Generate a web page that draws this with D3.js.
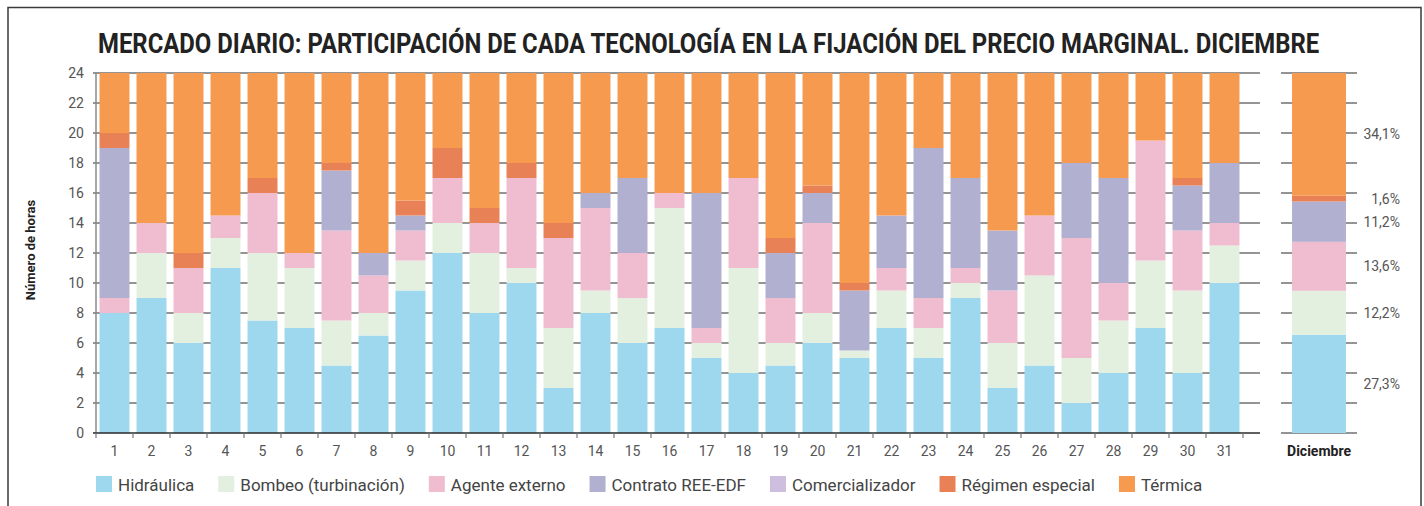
<!DOCTYPE html>
<html>
<head>
<meta charset="utf-8">
<script src="https://cdn.jsdelivr.net/npm/d3@7"></script>
<style>
  body { margin: 0; background: #fff; }
  svg { display: block; font-family: "Liberation Sans Narrow", "Arial Narrow", Roboto, sans-serif; }
</style>
</head>
<body>
<svg id="chart" width="1424" height="506"></svg>
<script>
// daily hours per technology (December)
var days = d3.range(1, 32);
var hidraulica      = [8, 9, 6, 11, 7.5, 7, 4.5, 6.5, 9.5, 12, 8, 10, 3, 8, 6, 7, 5, 4, 4.5, 6, 5, 7, 5, 9, 3, 4.5, 2, 4, 7, 4, 10];
var bombeo          = [0, 3, 2, 2, 4.5, 4, 3, 1.5, 2, 2, 4, 1, 4, 1.5, 3, 8, 1, 7, 1.5, 2, 0.5, 2.5, 2, 1, 3, 6, 3, 3.5, 4.5, 5.5, 2.5];
var agente          = [1, 2, 3, 1.5, 4, 1, 6, 2.5, 2, 3, 2, 6, 6, 5.5, 3, 1, 1, 6, 3, 6, 0, 1.5, 2, 1, 3.5, 4, 8, 2.5, 8, 4, 1.5];
var contrato        = [10, 0, 0, 0, 0, 0, 4, 1.5, 1, 0, 0, 0, 0, 1, 5, 0, 9, 0, 3, 2, 4, 3.5, 10, 6, 4, 0, 5, 7, 0, 3, 4];
var comercializador = [0, 0, 0, 0, 0, 0, 0, 0, 0, 0, 0, 0, 0, 0, 0, 0, 0, 0, 0, 0, 0, 0, 0, 0, 0, 0, 0, 0, 0, 0, 0];
var regimen         = [1, 0, 1, 0, 1, 0, 0.5, 0, 1, 2, 1, 1, 1, 0, 0, 0, 0, 0, 1, 0.5, 0.5, 0, 0, 0, 0, 0, 0, 0, 0, 0.5, 0];
var termica         = [4, 10, 12, 9.5, 7, 12, 6, 12, 8.5, 5, 9, 6, 10, 8, 7, 8, 8, 7, 11, 7.5, 14, 9.5, 5, 7, 10.5, 9.5, 6, 7, 4.5, 7, 6];

// monthly share (%)
var mesPct = [27.3, 12.2, 13.6, 11.2, 0, 1.6, 34.1];

var keys = ["Hidráulica", "Bombeo (turbinación)", "Agente externo", "Contrato REE-EDF", "Comercializador", "Régimen especial", "Térmica"];
var colors = ["#9ed8ee", "#e4f0df", "#efbcd0", "#b1b0d1", "#cdbfdd", "#e98157", "#f69a4f"];
var yTicks = d3.range(0, 25, 2);

var series = [hidraulica, bombeo, agente, contrato, comercializador, regimen, termica];
var rows = days.map(function(d, i) {
	var r = { day: d };
	keys.forEach(function(k, j) { r[k] = series[j][i]; });
	return r;
});

var svg = d3.select("#chart");
var color = d3.scaleOrdinal().domain(keys).range(colors);

// frame
svg.append("path")
	.attr("d", "M8,506 V7.5 H1421 V506")
	.attr("fill", "none")
	.attr("stroke", "#3a3a3a")
	.attr("stroke-width", 1.5);

// title, squeezed horizontally to the width of the original condensed face
var title = svg.append("text")
	.attr("font-weight", "bold")
	.attr("font-size", 28)
	.attr("fill", "#222")
	.text("MERCADO DIARIO: PARTICIPACIÓN DE CADA TECNOLOGÍA EN LA FIJACIÓN DEL PRECIO MARGINAL. DICIEMBRE");
var titleW = title.node().getComputedTextLength();
title.attr("transform", "translate(98,53) scale(" + (1222 / titleW) + ",1)");

var plotL = 96, plotR = 1243, gridEnd = 1260, plotT = 73, plotB = 433;

var x = d3.scaleBand().domain(days).range([plotL, plotR]).paddingInner(0.19).paddingOuter(0.095);
var y = d3.scaleLinear().domain([0, 24]).range([plotB, plotT]);

// grid lines behind bars
svg.append("g").selectAll("line")
	.data(yTicks.slice(1))
	.join("line")
	.attr("x1", plotL - 3)
	.attr("x2", gridEnd)
	.attr("y1", function(d) { return y(d); })
	.attr("y2", function(d) { return y(d); })
	.attr("stroke", "#2a2a2a")
	.attr("stroke-width", 1.2);

var stack = d3.stack().keys(keys);
var stacked = stack(rows);

svg.append("g").selectAll("g")
	.data(stacked)
	.join("g")
	.attr("fill", function(d) { return color(d.key); })
	.selectAll("rect")
	.data(function(d) { return d; })
	.join("rect")
	.attr("x", function(d) { return x(d.data.day); })
	.attr("width", x.bandwidth())
	.attr("y", function(d) { return y(d[1]); })
	.attr("height", function(d) { return y(d[0]) - y(d[1]); });

// y axis
svg.append("line")
	.attr("x1", plotL).attr("x2", plotL)
	.attr("y1", plotT).attr("y2", plotB)
	.attr("stroke", "#8a8a8a")
	.attr("stroke-width", 1.5);

svg.append("g").selectAll("text")
	.data(yTicks)
	.join("text")
	.attr("x", 84)
	.attr("y", function(d) { return y(d) + 5; })
	.attr("text-anchor", "end")
	.attr("font-size", 14)
	.attr("fill", "#555")
	.text(function(d) { return d; });

svg.append("text")
	.attr("transform", "translate(35,250) rotate(-90)")
	.attr("text-anchor", "middle")
	.attr("font-weight", "bold")
	.attr("font-size", 13)
	.attr("fill", "#222")
	.text("Número de horas");

// x axis
svg.append("line")
	.attr("x1", plotL - 3).attr("x2", gridEnd)
	.attr("y1", plotB).attr("y2", plotB)
	.attr("stroke", "#2a2a2a")
	.attr("stroke-width", 1.3);

var step = x.step();
svg.append("g").selectAll("line")
	.data(d3.range(days.length + 1))
	.join("line")
	.attr("x1", function(i) { return plotL + i * step; })
	.attr("x2", function(i) { return plotL + i * step; })
	.attr("y1", plotB)
	.attr("y2", plotB + 5)
	.attr("stroke", "#777")
	.attr("stroke-width", 1.2);

svg.append("g").selectAll("text")
	.data(days)
	.join("text")
	.attr("x", function(d) { return x(d) + x.bandwidth() / 2; })
	.attr("y", 456)
	.attr("text-anchor", "middle")
	.attr("font-size", 14)
	.attr("fill", "#555")
	.text(function(d) { return d; });

// monthly panel
var mRow = {};
keys.forEach(function(k, j) { mRow[k] = mesPct[j] / 100 * 24; });
var mStack = stack([mRow]);
var mL = 1281, mR = 1357;

svg.append("g").selectAll("line")
	.data(yTicks)
	.join("line")
	.attr("x1", mL)
	.attr("x2", mR)
	.attr("y1", function(d) { return y(d); })
	.attr("y2", function(d) { return y(d); })
	.attr("stroke", "#2a2a2a")
	.attr("stroke-width", 1.2);

var xm = d3.scaleBand().domain(["Diciembre"]).range([mL, mR]).padding(0.17);

svg.append("g").selectAll("rect")
	.data(mStack)
	.join("rect")
	.attr("fill", function(d) { return color(d.key); })
	.attr("x", xm("Diciembre"))
	.attr("width", xm.bandwidth())
	.attr("y", function(d) { return y(d[0][1]); })
	.attr("height", function(d) { return y(d[0][0]) - y(d[0][1]); });

svg.append("g").selectAll("text")
	.data(mStack.filter(function(d, j) { return mesPct[j] > 0; }))
	.join("text")
	.attr("x", 1400)
	.attr("y", function(d) { return y((d[0][0] + d[0][1]) / 2) + 5; })
	.attr("text-anchor", "end")
	.attr("font-size", 14)
	.attr("fill", "#555")
	.text(function(d) { return d3.format(".1f")(mesPct[keys.indexOf(d.key)]).replace(".", ",") + "%"; });

svg.append("text")
	.attr("x", xm("Diciembre") + xm.bandwidth() / 2)
	.attr("y", 456)
	.attr("text-anchor", "middle")
	.attr("font-weight", "bold")
	.attr("font-size", 14)
	.attr("fill", "#222")
	.text("Diciembre");

// legend
var legend = svg.append("g").attr("transform", "translate(96,0)");
var lx = 0;
keys.forEach(function(k) {
	var item = legend.append("g").attr("transform", "translate(" + lx + ",0)");
	item.append("rect")
		.attr("x", 0).attr("y", 476)
		.attr("width", 16).attr("height", 16)
		.attr("fill", color(k));
	var t = item.append("text")
		.attr("x", 22)
		.attr("y", 491)
		.attr("font-size", 17)
		.attr("fill", "#444")
		.text(k);
	lx += 22 + t.node().getComputedTextLength() + 24;
});
</script>
</body>
</html>
